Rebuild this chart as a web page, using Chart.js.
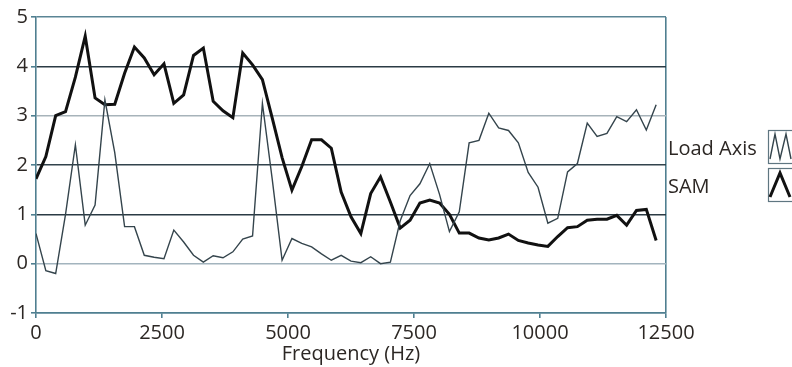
<!DOCTYPE html>
<html>
<head>
<meta charset="utf-8">
<script src="https://cdn.jsdelivr.net/npm/chart.js@4.4.1/dist/chart.umd.min.js"></script>
<style>
  html, body { margin: 0; padding: 0; background: #ffffff; }
  #wrap { width: 792px; height: 367px; }
</style>
</head>
<body>
<div id="wrap"><canvas id="chart" width="792" height="367"></canvas></div>
<script>
// Spectrum bins (Hz)
const frequencies = [
  0, 195.3, 390.6, 585.9, 781.3, 976.6, 1171.9, 1367.2, 1562.5, 1757.8,
  1953.1, 2148.4, 2343.8, 2539.1, 2734.4, 2929.7, 3125, 3320.3, 3515.6, 3710.9,
  3906.3, 4101.6, 4296.9, 4492.2, 4687.5, 4882.8, 5078.1, 5273.4, 5468.8, 5664.1,
  5859.4, 6054.7, 6250, 6445.3, 6640.6, 6835.9, 7031.3, 7226.6, 7421.9, 7617.2,
  7812.5, 8007.8, 8203.1, 8398.4, 8593.8, 8789.1, 8984.4, 9179.7, 9375, 9570.3,
  9765.6, 9960.9, 10156.3, 10351.6, 10546.9, 10742.2, 10937.5, 11132.8, 11328.1, 11523.4,
  11718.8, 11914.1, 12109.4, 12304.7
];

const loadAxis = [
  0.61, -0.14, -0.2, 1.0, 2.41, 0.78, 1.19, 3.32, 2.25, 0.75,
  0.75, 0.17, 0.13, 0.1, 0.68, 0.44, 0.17, 0.03, 0.16, 0.12,
  0.24, 0.5, 0.56, 3.25, 1.71, 0.07, 0.51, 0.41, 0.34, 0.2,
  0.07, 0.17, 0.05, 0.02, 0.14, 0.0, 0.03, 0.87, 1.38, 1.62,
  2.03, 1.4, 0.65, 1.05, 2.45, 2.5, 3.05, 2.75, 2.7, 2.45,
  1.85, 1.55, 0.82, 0.92, 1.86, 2.03, 2.85, 2.58, 2.64, 2.98,
  2.88, 3.12, 2.71, 3.22
];

const sam = [
  1.72, 2.17, 3.0, 3.08, 3.78, 4.61, 3.36, 3.22, 3.23, 3.86,
  4.39, 4.17, 3.83, 4.05, 3.25, 3.42, 4.22, 4.37, 3.29, 3.1,
  2.96, 4.27, 4.03, 3.73, 2.95, 2.15, 1.49, 1.97, 2.51, 2.51,
  2.34, 1.45, 0.95, 0.61, 1.42, 1.76, 1.25, 0.72, 0.88, 1.23,
  1.29, 1.23, 1.0, 0.62, 0.62, 0.52, 0.48, 0.52, 0.6, 0.47,
  0.42, 0.38, 0.35, 0.55, 0.73, 0.75, 0.88, 0.9, 0.9, 0.98,
  0.78, 1.08, 1.1, 0.47
];

const seriesNames = ['Load Axis', 'SAM'];
const xTicks = [0, 2500, 5000, 7500, 10000, 12500];
const yTicks = [-1, 0, 1, 2, 3, 4, 5];

const FONT = '"Open Sans", "DejaVu Sans", sans-serif';
const TEXT = '#2c2724';
const EDGE = '#4f7f90';

// horizontal rule colours, keyed by value
const ruleColor = { '5': '#5a8595', '4': '#2b3b44', '3': '#a7b3ba', '2': '#32434c', '1': '#2b3b44', '0': '#a3b4be', '-1': EDGE };

const toPoints = vals => vals.map((v, i) => ({ x: frequencies[i], y: v }));

// Legend drawn at the right: label first, then a framed glyph of the trace
const sideLegend = {
  id: 'sideLegend',
  afterDraw(chart) {
    const ctx = chart.ctx;
    const rows = [
      { y: 149, box: [768, 130, 30, 33], glyph: [[770, 159], [775, 134], [780, 159], [786, 134], [791, 159]] },
      { y: 187, box: [768, 168, 30, 33], glyph: [[770, 197], [780, 173], [790, 197]] }
    ];
    ctx.save();
    chart.data.datasets.forEach((ds, i) => {
      const r = rows[i];
      ctx.font = '20px ' + FONT;
      ctx.fillStyle = TEXT;
      ctx.textAlign = 'left';
      ctx.textBaseline = 'middle';
      ctx.fillText(ds.label, 668, r.y);
      ctx.strokeStyle = '#5f7681';
      ctx.lineWidth = 1.2;
      ctx.strokeRect(r.box[0] + 0.5, r.box[1] + 0.5, r.box[2], r.box[3]);
      ctx.strokeStyle = ds.borderColor;
      ctx.lineWidth = ds.borderWidth;
      ctx.lineJoin = 'miter';
      ctx.beginPath();
      r.glyph.forEach((p, k) => k ? ctx.lineTo(p[0], p[1]) : ctx.moveTo(p[0], p[1]));
      ctx.stroke();
    });
    ctx.restore();
  }
};

new Chart(document.getElementById('chart'), {
  type: 'line',
  data: {
    datasets: [
      {
        label: seriesNames[0],
        data: toPoints(loadAxis),
        borderColor: '#34444c',
        borderWidth: 1.4,
        pointRadius: 0,
        tension: 0,
        fill: false
      },
      {
        label: seriesNames[1],
        data: toPoints(sam),
        borderColor: '#111111',
        borderWidth: 3,
        pointRadius: 0,
        tension: 0,
        fill: false
      }
    ]
  },
  options: {
    responsive: false,
    animation: false,
    devicePixelRatio: 1,
    layout: { padding: { top: 17, right: 126, left: 0, bottom: 0 } },
    plugins: {
      legend: { display: false },
      tooltip: { enabled: false }
    },
    scales: {
      x: {
        type: 'linear',
        min: xTicks[0],
        max: xTicks[xTicks.length - 1],
        afterBuildTicks: s => { s.ticks = xTicks.map(v => ({ value: v })); },
        afterFit: s => { s.height = 54; },
        ticks: {
          color: TEXT,
          font: { family: FONT, size: 20 },
          padding: 3,
          maxRotation: 0,
          callback: v => String(v)
        },
        grid: {
          drawOnChartArea: true,
          color: c => (c.tick && c.tick.value === xTicks[xTicks.length - 1]) ? EDGE : 'rgba(0,0,0,0)',
          tickColor: EDGE,
          tickLength: 5,
          lineWidth: 1.6
        },
        border: { display: true, color: EDGE, width: 1.6 },
        title: {
          display: true,
          text: 'Frequency (Hz)',
          color: TEXT,
          font: { family: FONT, size: 20 },
          padding: { top: 0, bottom: 1 }
        }
      },
      y: {
        min: yTicks[0],
        max: yTicks[yTicks.length - 1],
        afterBuildTicks: s => { s.ticks = yTicks.map(v => ({ value: v })); },
        afterFit: s => { s.width = 36; },
        ticks: {
          color: TEXT,
          font: { family: FONT, size: 20 },
          padding: 3,
          callback: v => String(v)
        },
        grid: {
          color: c => ruleColor[String(c.tick ? c.tick.value : '')] || '#2b3b44',
          tickColor: EDGE,
          tickLength: 5,
          lineWidth: 1.6
        },
        border: { display: true, color: EDGE, width: 1.6 }
      }
    }
  },
  plugins: [sideLegend]
});
</script>
</body>
</html>
